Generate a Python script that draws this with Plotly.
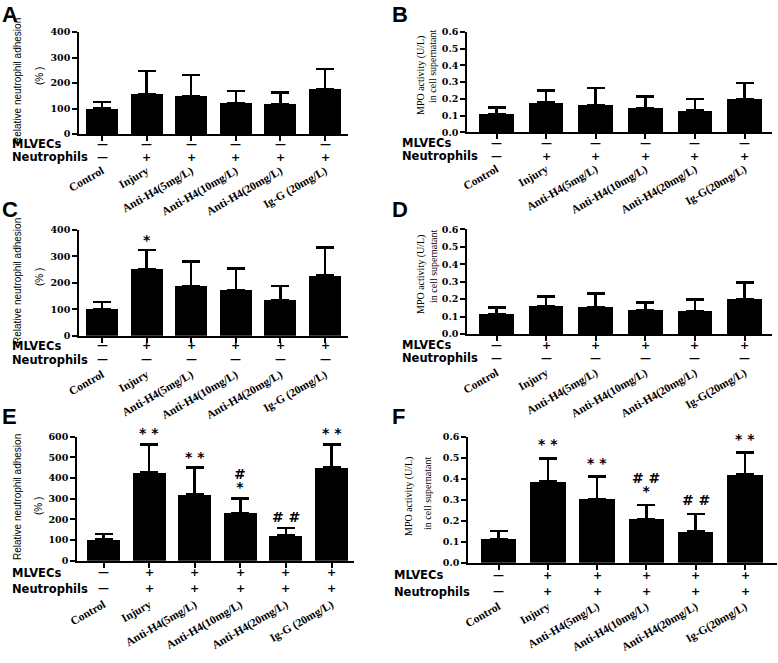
import plotly.graph_objects as go

W, H = 778, 663

# ---------------- data ----------------
cats_adh = ["Control", "Injury", "Anti-H4(5mg/L)", "Anti-H4(10mg/L)", "Anti-H4(20mg/L)", "Ig-G (20mg/L)"]
cats_mpo = ["Control", "Injury", "Anti-H4(5mg/L)", "Anti-H4(10mg/L)", "Anti-H4(20mg/L)", "Ig-G(20mg/L)"]

a_mean = [100, 156, 150, 120, 116, 175]
a_sd = [26, 91, 81, 49, 46, 80]
b_mean = [0.109, 0.177, 0.161, 0.145, 0.129, 0.197]
b_sd = [0.040, 0.072, 0.103, 0.068, 0.070, 0.099]
c_mean = [102, 251, 187, 173, 135, 227]
c_sd = [25, 73, 93, 82, 54, 106]
d_mean = [0.113, 0.161, 0.153, 0.134, 0.130, 0.199]
d_sd = [0.038, 0.053, 0.078, 0.046, 0.069, 0.097]
e_mean = [103, 427, 321, 231, 121, 450]
e_sd = [26, 136, 129, 71, 37, 113]
f_mean = [0.113, 0.386, 0.303, 0.208, 0.148, 0.421]
f_sd = [0.038, 0.111, 0.107, 0.067, 0.084, 0.103]

mlvecs_ab = ["—", "—", "—", "—", "—", "—"]
neut_ab = ["—", "+", "+", "+", "+", "+"]
mlvecs_cd = ["—", "+", "+", "+", "+", "+"]
neut_cd = ["—", "—", "—", "—", "—", "—"]
mlvecs_ef = ["—", "+", "+", "+", "+", "+"]
neut_ef = ["—", "+", "+", "+", "+", "+"]

sig_c = ["", "*", "", "", "", ""]
sig_e = ["", "* *", "* *", "#<br>*", "# #", "* *"]
sig_f = ["", "* *", "* *", "# #<br>*", "# #", "* *"]
empty = ["", "", "", "", "", ""]

y_title_adh = ["Relative neutrophil adhesion", "(% )"]
y_title_mpo = ["MPO activity (U/L)", "in cell supernatant"]

# ---------------- layout geometry (pixels) ----------------
panels = [
    dict(letter="A", cats=cats_adh, mean=a_mean, sd=a_sd, ymax=400, dtick=100, fmt="d",
         axL=79, axR=348, yTop=32, yBot=134, c0=102, c5=325, bw=0.72,
         ml=mlvecs_ab, ne=neut_ab, rowdy=(10, 23), labx=10, sig=empty, gap=2,
         title=y_title_adh, tx=(17, 39), ty=(81, 76), stand=19, lx=0, ly=0, lsh=0),
    dict(letter="B", cats=cats_mpo, mean=b_mean, sd=b_sd, ymax=0.6, dtick=0.1, fmt=".1f",
         axL=467, axR=772, yTop=32, yBot=132.3, c0=496.5, c5=744.5, bw=0.70,
         ml=mlvecs_ab, ne=neut_ab, rowdy=(10.7, 23.7), labx=400, sig=empty, gap=2,
         title=y_title_mpo, tx=(421, 433), ty=(75, 66), stand=19, lx=390, ly=0, lsh=0),
    dict(letter="C", cats=cats_adh, mean=c_mean, sd=c_sd, ymax=400, dtick=100, fmt="d",
         axL=79, axR=348, yTop=230, yBot=335.7, c0=102, c5=325, bw=0.72,
         ml=mlvecs_cd, ne=neut_cd, rowdy=(10, 24), labx=10, sig=sig_c, gap=0,
         title=y_title_adh, tx=(17, 39), ty=(281, 277), stand=21, lx=0, ly=199, lsh=4),
    dict(letter="D", cats=cats_mpo, mean=d_mean, sd=d_sd, ymax=0.6, dtick=0.1, fmt=".1f",
         axL=467, axR=772, yTop=229.3, yBot=334, c0=496.5, c5=744.5, bw=0.70,
         ml=mlvecs_cd, ne=neut_cd, rowdy=(11, 24), labx=400, sig=empty, gap=2,
         title=y_title_mpo, tx=(421, 433), ty=(274, 266), stand=21, lx=390, ly=199, lsh=4),
    dict(letter="E", cats=cats_adh, mean=e_mean, sd=e_sd, ymax=600, dtick=100, fmt="d",
         axL=77, axR=354, yTop=436.7, yBot=560.7, c0=103.5, c5=331.5, bw=0.72,
         ml=mlvecs_ef, ne=neut_ef, rowdy=(12, 28), labx=10, sig=sig_e, gap=1,
         title=y_title_adh, tx=(17, 39), ty=(497, 506), stand=26, lx=0, ly=406, lsh=4),
    dict(letter="F", cats=cats_mpo, mean=f_mean, sd=f_sd, ymax=0.6, dtick=0.1, fmt=".1f",
         axL=468, axR=777, yTop=436.7, yBot=562.7, c0=498.5, c5=745, bw=0.72,
         ml=mlvecs_ef, ne=neut_ef, rowdy=(12.3, 29), labx=392, sig=sig_f, gap=4,
         title=y_title_mpo, tx=(409, 427), ty=(497, 493), stand=26, lx=390, ly=406, lsh=4),
]

TICKFONT = dict(family="DejaVu Serif", size=9.5, color="black", weight="bold")
CATFONT = dict(family="Liberation Serif", size=11.5, color="black", weight="bold")
ROWFONT = dict(family="DejaVu Sans", size=11.5, color="black", weight="bold")
SIGNFONT = dict(family="DejaVu Sans", size=11, color="black", weight="bold")
STARFONT = dict(family="DejaVu Sans", size=10, color="black", weight="bold")
ADHFONT = dict(family="Liberation Sans", size=10, color="black")
MPOFONT = dict(family="Liberation Serif", size=10, color="black")
LETTERFONT = dict(family="Liberation Sans", size=22, color="black", weight="bold")

fig = go.Figure()
annotations = []
layout = dict(template="none", width=W, height=H, margin=dict(l=0, r=0, t=0, b=0, pad=0),
              autosize=False, paper_bgcolor="white", plot_bgcolor="white", showlegend=False,
              bargap=0)


def py(p):
    return 1 - p / H


for i, p in enumerate(panels, start=1):
    xa = "x" if i == 1 else f"x{i}"
    ya = "y" if i == 1 else f"y{i}"
    s = (p["c5"] - p["c0"]) / 5.0
    xr = [(p["axL"] - p["c0"]) / s, (p["axR"] - p["c0"]) / s]
    fig.add_trace(go.Bar(
        x=p["cats"], y=p["mean"], width=p["bw"],
        marker=dict(color="black", line=dict(width=0)),
        error_y=dict(type="data", array=p["sd"], arrayminus=[0] * 6, symmetric=False,
                     color="black", thickness=2.5, width=9),
        xaxis=xa, yaxis=ya, hoverinfo="skip"))
    layout["xaxis" if i == 1 else f"xaxis{i}"] = dict(
        domain=[p["axL"] / W, p["axR"] / W], anchor=ya, range=xr, automargin=False,
        type="category", categoryorder="array", categoryarray=p["cats"],
        showline=True, linecolor="black", linewidth=1.6, ticks="outside",
        ticklen=5, tickwidth=1.6, tickcolor="black", tickangle=-30,
        tickfont=CATFONT, ticklabelstandoff=p["stand"], showgrid=False,
        zeroline=False, fixedrange=True)
    layout["yaxis" if i == 1 else f"yaxis{i}"] = dict(
        domain=[py(p["yBot"]), py(p["yTop"])], anchor=xa, range=[0, p["ymax"]],
        dtick=p["dtick"], tick0=0, tickformat=p["fmt"], automargin=False,
        showline=True, linecolor="black", linewidth=1.6, ticks="outside",
        ticklen=5, tickwidth=1.6, tickcolor="black", tickfont=TICKFONT,
        showgrid=False, zeroline=False, fixedrange=True)

    # +/- rows
    for lbl, signs, dy in (("MLVECs", p["ml"], p["rowdy"][0]), ("Neutrophils", p["ne"], p["rowdy"][1])):
        yy = py(p["yBot"] + dy)
        annotations.append(dict(x=p["labx"] / W, y=yy, xref="paper", yref="paper",
                                text=lbl, showarrow=False, xanchor="left", yanchor="middle",
                                font=ROWFONT))
        for c, sg in zip(p["cats"], signs):
            annotations.append(dict(x=c, y=yy, xref=xa, yref="paper", text=sg,
                                    showarrow=False, xanchor="center", yanchor="middle",
                                    font=SIGNFONT))

    # significance markers (line height from 10px font, glyphs drawn at 14px)
    for c, m, sd, t in zip(p["cats"], p["mean"], p["sd"], p["sig"]):
        if t:
            lines = t.split("<br>")
            txt = "<br>".join(f"<span style='font-size:14px'>{ln}</span>" for ln in lines)
            annotations.append(dict(x=c, y=m + sd, xref=xa, yref=ya, text=txt, showarrow=False,
                                    xanchor="center", yanchor="bottom", yshift=p["gap"],
                                    font=STARFONT))

    # y titles
    tfont = ADHFONT if p["title"] is y_title_adh else MPOFONT
    for txt, tx, ty in zip(p["title"], p["tx"], p["ty"]):
        annotations.append(dict(x=tx / W, y=py(ty), xref="paper", yref="paper", text=txt,
                                textangle=-90, showarrow=False, xanchor="center",
                                yanchor="middle", font=tfont))

    # panel letter
    annotations.append(dict(x=p["lx"] / W, y=py(p["ly"]), xref="paper", yref="paper",
                            text=p["letter"], showarrow=False, xanchor="left",
                            yanchor="top", yshift=p["lsh"], font=LETTERFONT))

layout["annotations"] = annotations
fig.update_layout(**layout)
fig.write_html("out.html", config={"displayModeBar": False},
               post_script="document.body.style.margin='0';document.body.style.overflow='hidden';")
